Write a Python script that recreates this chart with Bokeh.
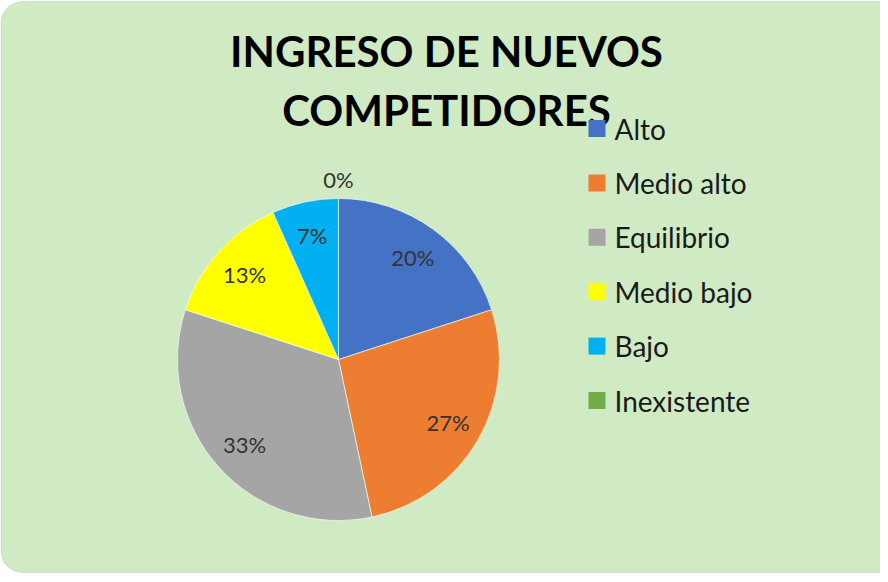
import numpy as np
from bokeh.plotting import figure
from bokeh.models import ColumnDataSource, Range1d, BoxAnnotation
from bokeh.core.properties import value
from bokeh.embed import file_html
from bokeh.resources import INLINE

# ---- data ----
categories = ["Alto", "Medio alto", "Equilibrio", "Medio bajo", "Bajo", "Inexistente"]
counts = [3, 4, 5, 2, 1, 0]
colors = ["#4472C4", "#ED7D31", "#A5A5A5", "#FFFF00", "#00B0F0", "#70AD47"]
title_lines = ["INGRESO DE NUEVOS", "COMPETIDORES"]

W, H = 880, 574
FONT = "Lato"
BG = "#D0EBC3"

p = figure(width=W, height=H, output_backend="svg", toolbar_location=None,
           x_range=Range1d(0, W), y_range=Range1d(0, H), min_border=0)
p.axis.visible = False
p.grid.visible = False
p.outline_line_color = None
p.background_fill_color = "white"
p.border_fill_color = "white"

box = BoxAnnotation(left=0.5, right=W + 30, bottom=2, top=H - 1,
                    fill_color=BG, fill_alpha=1.0, line_color="#A6A6A6",
                    line_width=1.2, border_radius=22, level="underlay")
p.add_layout(box)

# ---- pie ----
cx, cy, R = 338, 215, 161
vals = np.array(counts, dtype=float)
frac = vals / vals.sum()
cum_end = np.cumsum(frac)
cum_start = cum_end - frac
start = np.pi / 2 - cum_start * 2 * np.pi
end = np.pi / 2 - cum_end * 2 * np.pi
mid = (start + end) / 2
pct = [f"{int(round(f * 100))}%" for f in frac]
lr = np.where(frac > 0, R * 0.785, R * 1.12)
src = ColumnDataSource(dict(cat=categories, start=start, end=end, color=colors,
                            lx=cx + lr * np.cos(mid), ly=cy + lr * np.sin(mid), pct=pct))
nz = ColumnDataSource(dict(start=start[frac > 0], end=end[frac > 0],
                           color=[c for c, f in zip(colors, frac) if f > 0]))
p.wedge(x=cx, y=cy, radius=R, start_angle="start", end_angle="end", direction="clock",
        fill_color="color", line_color="white", line_width=0.6, source=nz)
p.text(x="lx", y="ly", text="pct", source=src, text_align="center", text_baseline="middle",
       text_font=value(FONT), text_font_size="22px", text_color="#333333")

# ---- title ----
tsrc = ColumnDataSource(dict(x=[446, 446], y=[524, 465], t=title_lines))
p.text(x="x", y="y", text="t", source=tsrc, text_align="center", text_baseline="middle",
       text_font=value(FONT), text_font_style="bold", text_font_size="42px", text_color="black")

# ---- legend ----
idx = np.arange(len(categories))
ly0, ldy = 446, 54.4
leg = ColumnDataSource(dict(x=[596.5] * len(categories), y=ly0 - idx * ldy,
                            tx=[614] * len(categories), cat=categories, color=colors))
p.rect(x="x", y="y", width=17, height=17, fill_color="color", line_color=None, source=leg)
p.text(x="tx", y="y", text="cat", source=leg, text_align="left", text_baseline="middle",
       text_font=value(FONT), text_font_size="28px", text_color="#1a1a1a")

open("out.html", "w").write(file_html(p, INLINE))
